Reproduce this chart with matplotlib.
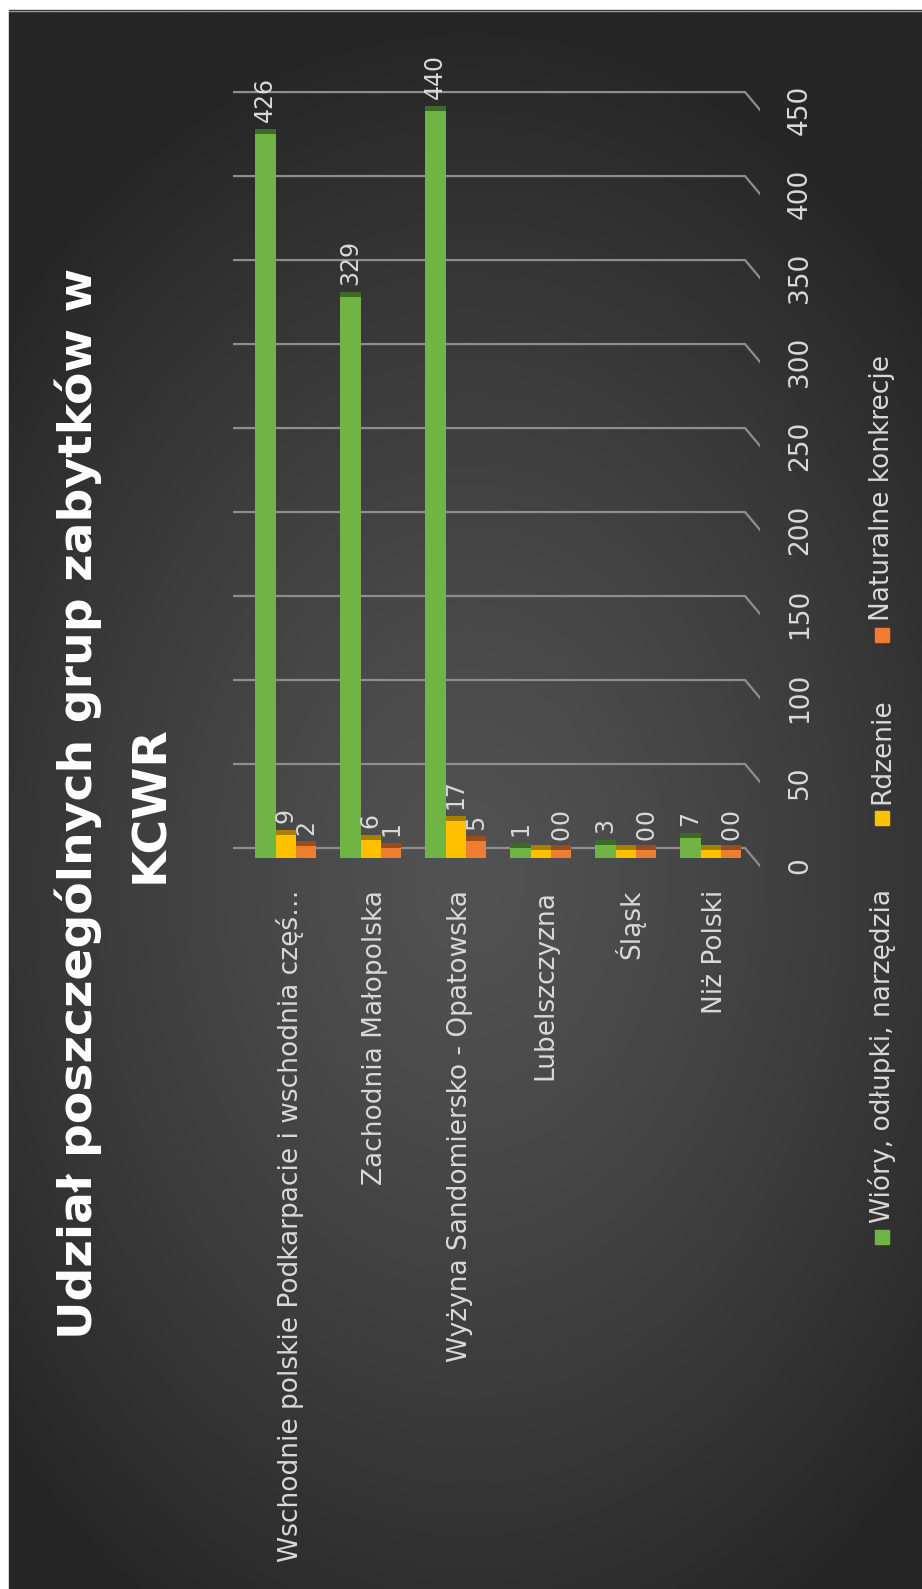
import numpy as np
import matplotlib.pyplot as plt
from matplotlib.patches import Rectangle
from matplotlib.lines import Line2D

# dane
categories = ["Wschodnie polskie Podkarpacie i wschodnia częś…", "Zachodnia Małopolska",
              "Wyżyna Sandomiersko - Opatowska", "Lubelszczyzna", "Śląsk", "Niż Polski"]
series_names = ["Wióry, odłupki, narzędzia", "Rdzenie", "Naturalne konkrecje"]
wiory = [426, 329, 440, 1, 3, 7]
rdzenie = [9, 6, 17, 0, 0, 0]
konkrecje = [2, 1, 5, 0, 0, 0]
yticks = [0, 50, 100, 150, 200, 250, 300, 350, 400, 450]

colors = ['#70b446', '#ffc000', '#ed7d31']
caps = ['#3d6a26', '#a88000', '#9c4c1a']
txt = '#d9d9d9'

W, H = 922, 1589


def fx(x):
    return x / W


def fy(y):
    return 1 - y / H


fig = plt.figure(figsize=(W / 100, H / 100), dpi=100, facecolor='white')

# tło z gradientem
fig.patches.append(Rectangle((fx(9), -0.01), 1.1, fy(10) + 0.01, transform=fig.transFigure,
                             color='#282828', zorder=-5))
bg = fig.add_axes([fx(9), -0.01, 1.02 - fx(9), fy(10) + 0.01])
yy, xx = np.mgrid[10:1610:2, 9:945:2]
r = np.sqrt(((xx - 470) / 620) ** 2 + ((yy - 880) / 860) ** 2)
g = (0x52 - (0x52 - 0x26) * np.clip(r, 0, 1) ** 1.3) / 255
img = np.dstack([g, g, g])
bg.imshow(img, extent=(9, 945, 1610, 10), aspect='auto', interpolation='bilinear')
bg.set_xlim(9, 945)
bg.set_ylim(1610, 10)
bg.axis('off')
fig.add_artist(Line2D([fx(9), 1], [fy(10.5), fy(10.5)], color='#9a9a9a', lw=1))

ax = fig.add_axes([fx(233), fy(870), fx(760) - fx(233), fy(40) - fy(870)])
ax.set_xlim(-0.6706, 5.529)
ax.set_ylim(-13.1, 481)
ax.axis('off')
ax.patch.set_alpha(0)

# linie siatki z "3D" końcówką
drop = 10.7
for v in yticks:
    ax.plot([-0.6706, 5.353, 5.53], [v, v, v - drop], color='#8e8e8e', lw=1.6, zorder=1,
            solid_joinstyle='miter')
    ax.text(6.0, v - drop, str(v), rotation=90, ha='center', va='center',
            fontsize=19, color=txt)

x = np.arange(len(categories))
floor = -6
offsets = [-0.29, -0.05, 0.19]
for k, (vals, c, cc) in enumerate(zip([wiory, rdzenie, konkrecje], colors, caps)):
    vals = np.array(vals)
    off = offsets[k]
    ax.bar(x + off, vals - floor, bottom=floor, width=0.24, color=c, zorder=3)
    ax.bar(x + off, 3, bottom=vals - 1, width=0.24, color=cc, zorder=3)
    for i, v in enumerate(vals):
        lx, ly = i + off, v + 6
        if v == 0 and k > 0:
            # zera z obu serii nachodzą na siebie jak w oryginale ("8")
            lx, ly = i + offsets[2], 5 + (2 - k) * 9
        ax.text(lx, ly, str(v), rotation=90, rotation_mode='anchor', ha='left',
                va='center', fontsize=17, color=txt, zorder=5)

for i, cat in enumerate(categories):
    ax.text(i, -25, cat, rotation=90, rotation_mode='anchor', ha='right', va='center',
            fontsize=19, color=txt)

# legenda
for name, c, yc in zip(series_names, colors, [1237, 818, 635]):
    fig.patches.append(Rectangle((fx(875), fy(yc + 7)), 14 / W, 14 / H,
                                 transform=fig.transFigure, color=c))
    fig.text(fx(882), fy(yc - 14), name, rotation=90, rotation_mode='anchor',
             ha='left', va='center', fontsize=19, color=txt)

# tytuł
fig.text(fx(92), fy(803), "Udział poszczególnych grup zabytków w", rotation=90,
         rotation_mode='anchor', ha='center', va='baseline', fontsize=34,
         fontweight='bold', color='white')
fig.text(fx(163), fy(804), "KCWR", rotation=90, rotation_mode='anchor', ha='center',
         va='baseline', fontsize=34, fontweight='bold', color='white')

fig.savefig('out.png', dpi=100, facecolor='white')
